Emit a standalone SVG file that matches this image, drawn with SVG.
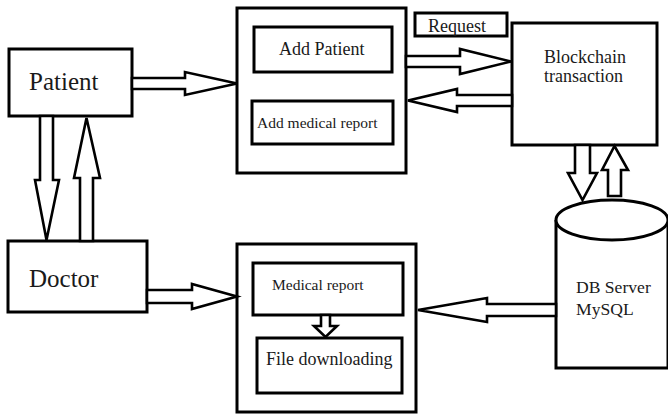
<svg xmlns="http://www.w3.org/2000/svg" width="668" height="414" viewBox="0 0 668 414">
<style>
.box{fill:#fff;stroke:#000;stroke-width:3}
.arr{fill:#fff;stroke:#000;stroke-width:2.6;stroke-linejoin:miter}
text{font-family:"Liberation Serif","Times New Roman",serif;fill:#1a1a1a}
</style>
<rect width="668" height="414" fill="#fff"/>
<g id="patient"><rect class="box" x="9" y="49" width="123" height="67"/><text x="29" y="90" font-size="25">Patient</text></g>
<g id="doctor"><rect class="box" x="8" y="241" width="139" height="71"/><text x="29" y="287" font-size="25">Doctor</text></g>
<g id="top-container"><rect class="box" x="237" y="8" width="169" height="165"/></g>
<g id="add-patient"><rect class="box" x="254" y="27" width="138" height="45"/><text x="279" y="55" font-size="18">Add Patient</text></g>
<g id="add-medical-report"><rect class="box" x="252" y="101" width="141" height="43"/><text x="257" y="128" font-size="15.5">Add medical report</text></g>
<g id="request"><rect class="box" x="415" y="13" width="92" height="23"/><text x="428" y="32" font-size="18">Request</text></g>
<g id="blockchain"><rect class="box" x="512" y="23" width="145" height="122"/><text x="544" y="63" font-size="18">Blockchain</text><text x="544" y="82" font-size="18">transaction</text></g>
<g id="db-server"><path class="box" d="M556,220 L556,368 L668,368 L668,220"/><ellipse class="box" cx="612" cy="220" rx="56" ry="20"/><text x="576" y="293" font-size="17.6">DB Server</text><text x="576" y="315" font-size="17.6">MySQL</text></g>
<g id="bottom-container"><rect class="box" x="237" y="244" width="179" height="168"/></g>
<g id="medical-report"><rect class="box" x="253" y="263" width="150" height="52"/><text x="272" y="290" font-size="15.5">Medical report</text></g>
<g id="file-downloading"><rect class="box" x="257" y="338" width="145" height="55"/><text x="266" y="365" font-size="18">File downloading</text></g>
<g id="connectors">
<polygon class="arr" points="132,78 185,78 185,72 237,83.5 185,95 185,89 132,89"/>
<polygon class="arr" points="406,56 460,56 460,49 511,61.5 460,74 460,67 406,67"/>
<polygon class="arr" points="512,95 457,95 457,89 408,100.5 457,112 457,106 512,106"/>
<polygon class="arr" points="575,145 575,173 568,173 582.5,200 597,173 590,173 590,145"/>
<polygon class="arr" points="608,196 608,170 602,170 614.5,146 628,170 621,170 621,196"/>
<polygon class="arr" points="556,304 487,304 487,298 418,310 487,322 487,316 556,316"/>
<polygon class="arr" points="147,290 192,290 192,284 237,296.5 192,309 192,303 147,303"/>
<polygon class="arr" points="40,116 40,180 35,180 46.5,240 59,180 53,180 53,116"/>
<polygon class="arr" points="80,241 80,178 74,178 86.5,118 100,178 93,178 93,241"/>
<polygon class="arr" points="321,315 321,326 314,326 325.5,337 337,326 330,326 330,315"/>
</g>
</svg>
